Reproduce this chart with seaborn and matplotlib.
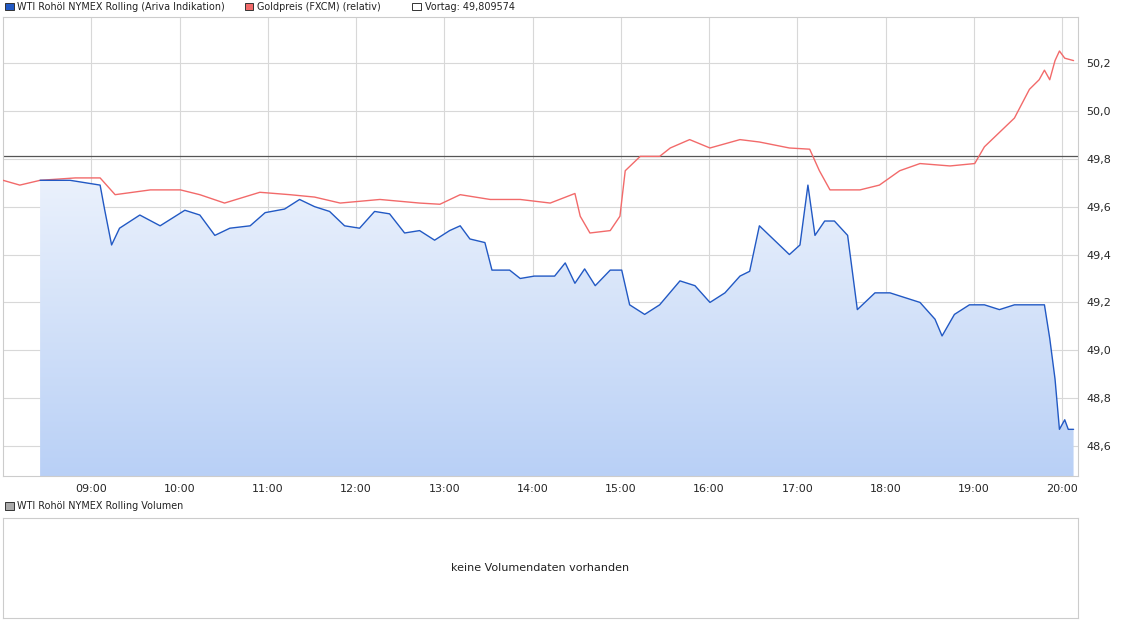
import numpy as np
import pandas as pd
import matplotlib.pyplot as plt
import seaborn as sns
from matplotlib.patches import Rectangle
from matplotlib.colors import LinearSegmentedColormap

# WTI (blue) - time in hours, price
wti_time = [8.42, 8.76, 9.10, 9.15, 9.23, 9.32, 9.55, 9.78, 10.06, 10.23, 10.40, 10.57, 10.80,
            10.97, 11.19, 11.36, 11.53, 11.70, 11.87, 12.04, 12.21, 12.38, 12.55, 12.72, 12.89,
            13.06, 13.18, 13.29, 13.46, 13.54, 13.74, 13.86, 14.02, 14.25, 14.37, 14.48, 14.59,
            14.71, 14.88, 15.01, 15.10, 15.27, 15.44, 15.67, 15.84, 16.01, 16.18, 16.35, 16.46,
            16.57, 16.74, 16.91, 17.03, 17.12, 17.20, 17.31, 17.42, 17.57, 17.68, 17.88, 18.05,
            18.22, 18.39, 18.56, 18.64, 18.78, 18.95, 19.12, 19.29, 19.46, 19.63, 19.80, 19.86,
            19.92, 19.97, 20.03, 20.07, 20.13]
wti_price = [49.71, 49.71, 49.69, 49.59, 49.44, 49.51, 49.565, 49.52, 49.585, 49.565, 49.48,
             49.51, 49.52, 49.575, 49.59, 49.63, 49.60, 49.58, 49.52, 49.51, 49.58, 49.57,
             49.49, 49.50, 49.46, 49.50, 49.52, 49.465, 49.45, 49.335, 49.335, 49.30, 49.31,
             49.31, 49.365, 49.28, 49.34, 49.27, 49.335, 49.335, 49.19, 49.15, 49.19, 49.29,
             49.27, 49.20, 49.24, 49.31, 49.33, 49.52, 49.46, 49.40, 49.44, 49.69, 49.48,
             49.54, 49.54, 49.48, 49.17, 49.24, 49.24, 49.22, 49.20, 49.13, 49.06, 49.15,
             49.19, 49.19, 49.17, 49.19, 49.19, 49.19, 49.05, 48.88, 48.67, 48.71, 48.67, 48.67]

# Gold (red, relative)
gold_time = [8.00, 8.19, 8.42, 8.82, 9.10, 9.27, 9.67, 10.01, 10.23, 10.51, 10.91, 11.25,
             11.53, 11.82, 12.27, 12.72, 12.95, 13.18, 13.52, 13.86, 14.20, 14.48, 14.54,
             14.65, 14.88, 14.99, 15.05, 15.22, 15.44, 15.56, 15.78, 16.01, 16.35, 16.57,
             16.91, 17.14, 17.25, 17.37, 17.71, 17.93, 18.16, 18.39, 18.73, 19.01, 19.12,
             19.29, 19.46, 19.63, 19.74, 19.80, 19.86, 19.92, 19.97, 20.03, 20.13]
gold_price = [49.71, 49.69, 49.71, 49.72, 49.72, 49.65, 49.67, 49.67, 49.65, 49.615, 49.66,
              49.65, 49.64, 49.615, 49.63, 49.615, 49.61, 49.65, 49.63, 49.63, 49.615, 49.655,
              49.56, 49.49, 49.50, 49.56, 49.75, 49.81, 49.81, 49.845, 49.88, 49.845, 49.88,
              49.87, 49.845, 49.84, 49.75, 49.67, 49.67, 49.69, 49.75, 49.78, 49.77, 49.78,
              49.85, 49.91, 49.97, 50.09, 50.13, 50.17, 50.13, 50.21, 50.25, 50.22, 50.21]

vortag = 49.809574
xtick_hours = list(range(9, 21))

sns.set_style("white")
plt.rcParams['font.family'] = ['DejaVu Sans']

fig = plt.figure(figsize=(11.25, 6.3), dpi=100)
ax = fig.add_axes([0.0027, 0.2444, 0.9555, 0.7286])
ymin, ymax = 48.475, 50.392
xmin, xmax = 8.0, 20.18

# gradient fill under WTI
grad = np.linspace(0, 1, 256).reshape(-1, 1)
cmap = LinearSegmentedColormap.from_list("g", ["#b9d0f6", "#eaf1fc"])
fill = ax.fill_between(wti_time, wti_price, ymin, color="none")
img = ax.imshow(grad, extent=[xmin, xmax, ymin, max(wti_price)], origin="lower",
                aspect="auto", cmap=cmap, zorder=1)
img.set_clip_path(fill.get_paths()[0], transform=ax.transData)

ax.axhline(vortag, color="#555555", lw=0.9, zorder=2)
sns.lineplot(x=gold_time, y=gold_price, ax=ax, color="#f26a6a", lw=1.0, zorder=3)
sns.lineplot(x=wti_time, y=wti_price, ax=ax, color="#2259c4", lw=1.0, zorder=4)

ax.set_xlim(xmin, xmax)
ax.set_ylim(ymin, ymax)
ax.set_xticks(xtick_hours)
ax.set_xticklabels([f"{h:02d}:00" for h in xtick_hours], fontsize=8)
yt = [48.6, 48.8, 49.0, 49.2, 49.4, 49.6, 49.8, 50.0, 50.2]
ax.set_yticks(yt)
ax.set_yticklabels([f"{v:.1f}".replace(".", ",") for v in yt], fontsize=8)
ax.yaxis.tick_right()
ax.tick_params(length=0, pad=6)
ax.grid(True, color="#d8d8d8", lw=0.8)
ax.set_axisbelow(True)
for s in ax.spines.values():
    s.set_color("#cccccc")

# legend row
def legend_item(x, y, color, text):
    fig.patches.append(Rectangle((x, y - 0.0058), 0.0075, 0.0115, transform=fig.transFigure,
                                 facecolor=color, edgecolor="#333333", lw=0.7))
    fig.text(x + 0.011, y, text, fontsize=6.9, va="center", color="#222222")

legend_item(0.0045, 0.9895, "#2259c4", "WTI Rohöl NYMEX Rolling (Ariva Indikation)")
legend_item(0.2175, 0.9895, "#f26a6a", "Goldpreis (FXCM) (relativ)")
legend_item(0.3665, 0.9895, "white", "Vortag: 49,809574")

# volume panel
vax = fig.add_axes([0.0027, 0.019, 0.9555, 0.159])
vax.set_xticks([])
vax.set_yticks([])
for s in vax.spines.values():
    s.set_color("#cccccc")
vax.text(0.5, 0.5, "keine Volumendaten vorhanden", ha="center", va="center",
         fontsize=8, color="#222222", transform=vax.transAxes)
legend_item(0.0045, 0.197, "#aaaaaa", "WTI Rohöl NYMEX Rolling Volumen")

fig.savefig("out.png", dpi=100)
